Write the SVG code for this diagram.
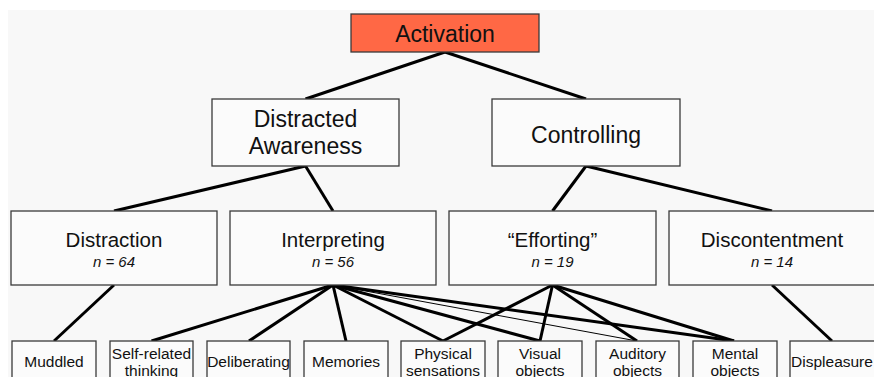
<svg xmlns="http://www.w3.org/2000/svg" width="874" height="377" viewBox="0 0 874 377">
<style>
.bx{fill:#fbfbfb;stroke:#3a3a3a;stroke-width:1.3}
.t{font-family:"Liberation Sans",Arial,sans-serif;fill:#111;text-anchor:middle}
.t1{font-size:23px}
.t2{font-size:20.5px}
.n{font-size:15px;font-style:italic}
.t3{font-size:15.5px}
.c{stroke:#000;stroke-width:3;fill:none}
.thin{stroke:#000;stroke-width:1;fill:none}
</style>
<rect x="0" y="0" width="874" height="377" fill="#ffffff"/>
<rect x="8" y="10" width="866" height="367" fill="#f8f8f8"/>
<g id="connectors">
<line class="c" x1="445" y1="52" x2="305.5" y2="99"/>
<line class="c" x1="445" y1="52" x2="586" y2="99"/>
<line class="c" x1="305.5" y1="166" x2="114" y2="211"/>
<line class="c" x1="305.5" y1="166" x2="333" y2="211"/>
<line class="c" x1="586" y1="166" x2="552.5" y2="211"/>
<line class="c" x1="586" y1="166" x2="772" y2="211"/>
<line class="c" x1="114" y1="285" x2="54" y2="341"/>
<line class="c" x1="333" y1="285" x2="151.5" y2="341"/>
<line class="c" x1="333" y1="285" x2="249" y2="341"/>
<line class="c" x1="333" y1="285" x2="346" y2="341"/>
<line class="c" x1="333" y1="285" x2="443" y2="341"/>
<line class="c" x1="333" y1="285" x2="540" y2="341"/>
<line class="thin" x1="333" y1="285" x2="637" y2="341"/>
<line class="c" x1="333" y1="285" x2="734" y2="341"/>
<line class="c" x1="552.5" y1="285" x2="443" y2="341"/>
<line class="c" x1="552.5" y1="285" x2="540" y2="341"/>
<line class="c" x1="552.5" y1="285" x2="637" y2="341"/>
<line class="c" x1="552.5" y1="285" x2="734" y2="341"/>
<line class="c" x1="772" y1="285" x2="832" y2="341"/>
</g>
<g id="activation"><rect x="351" y="14" width="188" height="38" fill="#ff6845" stroke="#3a3a3a" stroke-width="1.3"/><text class="t t1" x="445" y="41.5">Activation</text></g>
<g id="distracted-awareness"><rect class="bx" x="212" y="99" width="187" height="67"/><text class="t t1" x="305.5" y="127">Distracted</text><text class="t t1" x="305.5" y="154">Awareness</text></g>
<g id="controlling"><rect class="bx" x="492" y="99" width="188" height="67"/><text class="t t1" x="586" y="143">Controlling</text></g>
<g id="distraction"><rect class="bx" x="11" y="211" width="206" height="74"/><text class="t t2" x="114" y="247">Distraction</text><text class="t n" x="114" y="267">n = 64</text></g>
<g id="interpreting"><rect class="bx" x="230" y="211" width="206" height="74"/><text class="t t2" x="333" y="247">Interpreting</text><text class="t n" x="333" y="267">n = 56</text></g>
<g id="efforting"><rect class="bx" x="449" y="211" width="207" height="74"/><text class="t t2" x="552.5" y="247">“Efforting”</text><text class="t n" x="552.5" y="267">n = 19</text></g>
<g id="discontentment"><rect class="bx" x="669" y="211" width="206" height="74"/><text class="t t2" x="772" y="247">Discontentment</text><text class="t n" x="772" y="267">n = 14</text></g>
<g id="muddled"><rect class="bx" x="12" y="341" width="84" height="40"/><text class="t t3" x="54" y="367">Muddled</text></g>
<g id="self-related"><rect class="bx" x="110" y="341" width="83" height="40"/><text class="t t3" x="151.5" y="358.5">Self-related</text><text class="t t3" x="151.5" y="376">thinking</text></g>
<g id="deliberating"><rect class="bx" x="207" y="341" width="83" height="40"/><text class="t t3" x="248.5" y="367">Deliberating</text></g>
<g id="memories"><rect class="bx" x="304" y="341" width="84" height="40"/><text class="t t3" x="346" y="367">Memories</text></g>
<g id="physical"><rect class="bx" x="401" y="341" width="84" height="40"/><text class="t t3" x="443" y="358.5">Physical</text><text class="t t3" x="443" y="376">sensations</text></g>
<g id="visual"><rect class="bx" x="498" y="341" width="84" height="40"/><text class="t t3" x="540" y="358.5">Visual</text><text class="t t3" x="540" y="376">objects</text></g>
<g id="auditory"><rect class="bx" x="596" y="341" width="83" height="40"/><text class="t t3" x="637.5" y="358.5">Auditory</text><text class="t t3" x="637.5" y="376">objects</text></g>
<g id="mental"><rect class="bx" x="693" y="341" width="84" height="40"/><text class="t t3" x="735" y="358.5">Mental</text><text class="t t3" x="735" y="376">objects</text></g>
<g id="displeasure"><rect class="bx" x="790" y="341" width="86" height="40"/><text class="t t3" x="832" y="367">Displeasure</text></g>
</svg>
